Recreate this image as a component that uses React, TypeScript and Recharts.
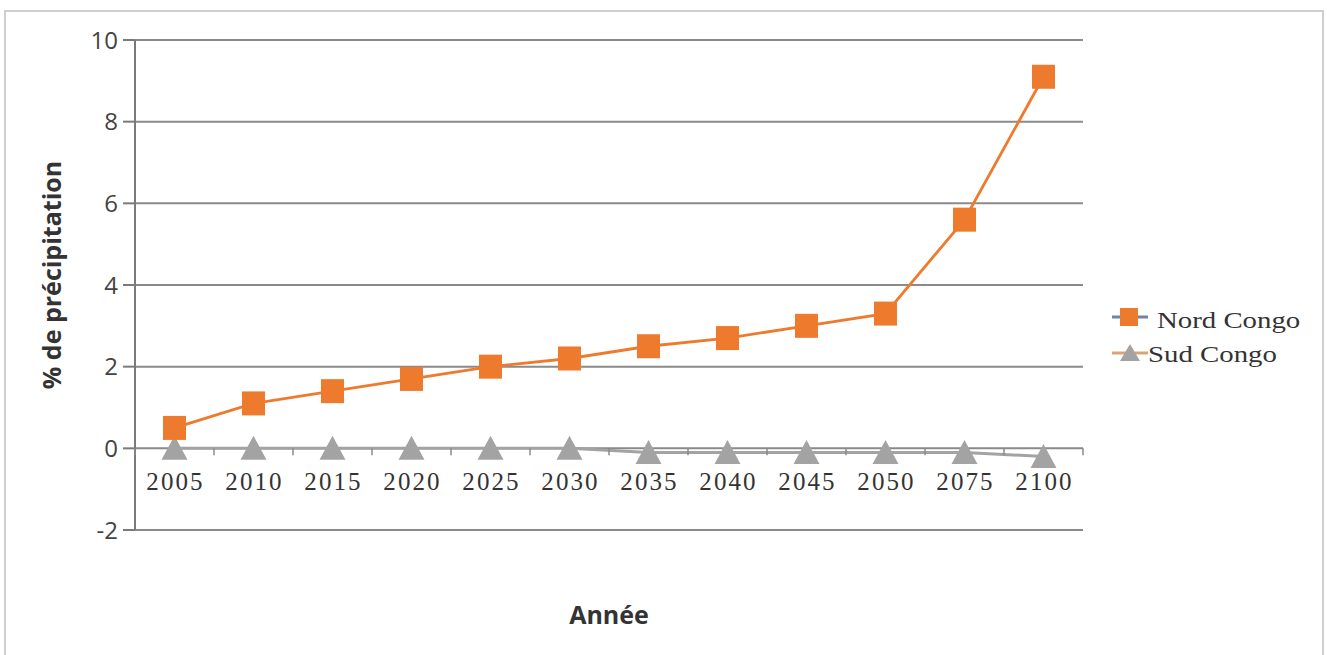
import React from 'react';
import { LineChart, Line, XAxis, YAxis, CartesianGrid } from 'recharts';

const years = ['2005', '2010', '2015', '2020', '2025', '2030', '2035', '2040', '2045', '2050', '2075', '2100'];
const nordCongo = [0.5, 1.1, 1.4, 1.7, 2.0, 2.2, 2.5, 2.7, 3.0, 3.3, 5.6, 9.1];
const sudCongo = [0, 0, 0, 0, 0, 0, -0.1, -0.1, -0.1, -0.1, -0.1, -0.2];
const yTicks = [-2, 0, 2, 4, 6, 8, 10];
const seriesNames = ['Nord Congo', 'Sud Congo'];
const yTitle = '% de précipitation';
const xTitle = 'Année';

const data = years.map((y, i) => ({ year: y, nord: nordCongo[i], sud: sudCongo[i] }));

const W = 1327;
const H = 655;
const M = { top: 40, right: 244, bottom: 95, left: 0 };
const Y_AXIS_W = 135;
const X_AXIS_H = 30;
const PLOT_W = W - M.left - M.right - Y_AXIS_W;
const PLOT_H = H - M.top - M.bottom - X_AXIS_H;
const Y_MIN = yTicks[0];
const Y_MAX = yTicks[yTicks.length - 1];
const ZERO_OFFSET = (PLOT_H * (0 - Y_MIN)) / (Y_MAX - Y_MIN);
const HALF = PLOT_W / years.length / 2;

const ORANGE = '#EE7A2E';
const GREY = '#A3A3A3';
const GRID = '#8a8a8a';

const XTick = (props: any) => {
  const { x, y, payload, index } = props;
  const zy = y - ZERO_OFFSET;
  return (
    <g>
      <text
        x={x + 1}
        y={zy + 42}
        textAnchor="middle"
        fontFamily="'Liberation Serif', 'Times New Roman', serif"
        fontSize={25}
        letterSpacing={2.1}
        fill="#333"
      >
        {payload.value}
      </text>
      <line x1={x - HALF} x2={x - HALF} y1={zy} y2={zy + 7} stroke={GRID} strokeWidth={1.5} />
      {index === years.length - 1 && (
        <line x1={x + HALF} x2={x + HALF} y1={zy} y2={zy + 7} stroke={GRID} strokeWidth={1.5} />
      )}
    </g>
  );
};

const SquareDot = (props: any) => {
  const { cx, cy } = props;
  if (cx == null || cy == null) return null;
  return <rect x={cx - 11.5} y={cy - 12} width={23} height={24} fill={ORANGE} />;
};

const TriangleDot = (props: any) => {
  const { cx, cy } = props;
  if (cx == null || cy == null) return null;
  return <polygon points={`${cx},${cy - 12.5} ${cx + 13},${cy + 11.5} ${cx - 13},${cy + 11.5}`} fill={GREY} />;
};

const legendText: React.CSSProperties = {
  position: 'absolute',
  fontFamily: "'Liberation Serif', 'Times New Roman', serif",
  fontSize: 24,
  color: '#333',
  transform: 'scaleX(1.2)',
  transformOrigin: 'left center',
  whiteSpace: 'nowrap',
  lineHeight: '28px',
};

export default function App() {
  return (
    <div
      style={{
        position: 'absolute',
        left: 0,
        top: 0,
        width: W,
        height: H,
        overflow: 'hidden',
        background: '#fff',
      }}
    >
      <div
        style={{
          position: 'absolute',
          left: 4,
          top: 10,
          width: 1320,
          height: 700,
          border: '2px solid #cfcfcf',
          boxSizing: 'border-box',
        }}
      />
      <div style={{ position: 'absolute', left: 0, top: 0 }}>
        <LineChart width={W} height={H} data={data} margin={M}>
          <CartesianGrid vertical={false} stroke={GRID} strokeWidth={2} />
          <XAxis
            dataKey="year"
            height={X_AXIS_H}
            axisLine={false}
            tickLine={false}
            tickSize={0}
            tickMargin={0}
            interval={0}
            padding={{ left: HALF, right: HALF }}
            tick={<XTick />}
            label={{
              value: xTitle,
              position: 'bottom',
              offset: 46,
              style: { fontFamily: "'Open Sans', sans-serif", fontWeight: 700, fontSize: 25, fill: '#333' },
            }}
          />
          <YAxis
            width={Y_AXIS_W}
            domain={[Y_MIN, Y_MAX]}
            ticks={yTicks}
            interval={0}
            axisLine={{ stroke: '#7a7a7a', strokeWidth: 2 }}
            tickLine={{ stroke: '#7a7a7a', strokeWidth: 2 }}
            tickSize={12}
            tickMargin={5}
            tick={{ fontFamily: "'Open Sans', sans-serif", fontSize: 24, fill: '#444' }}
            label={{
              value: yTitle,
              angle: -90,
              position: 'insideLeft',
              offset: 52,
              dy: -10,
              style: {
                textAnchor: 'middle',
                fontFamily: "'Open Sans', sans-serif",
                fontWeight: 700,
                fontSize: 25,
                fill: '#333',
              },
            }}
          />
          <YAxis
            yAxisId="r"
            orientation="right"
            width={0}
            domain={[Y_MIN, Y_MAX]}
            ticks={yTicks}
            tick={false}
            tickLine={false}
            axisLine={{ stroke: '#c4c4c4', strokeWidth: 2 }}
          />
          <Line
            dataKey="sud"
            name={seriesNames[1]}
            stroke={GREY}
            strokeWidth={3}
            dot={<TriangleDot />}
            activeDot={false}
            isAnimationActive={false}
          />
          <Line
            dataKey="nord"
            name={seriesNames[0]}
            stroke={ORANGE}
            strokeWidth={2.8}
            dot={<SquareDot />}
            activeDot={false}
            isAnimationActive={false}
          />
        </LineChart>
      </div>
      <svg style={{ position: 'absolute', left: 1108, top: 300 }} width={45} height={70}>
        <line x1={4} x2={40} y1={17} y2={17} stroke="#6b86a6" strokeWidth={3} />
        <rect x={12} y={8} width={18} height={18} fill={ORANGE} />
        <line x1={4} x2={40} y1={53} y2={53} stroke="#d8a57a" strokeWidth={3} />
        <polygon points="22,44 32,61 12,61" fill={GREY} />
      </svg>
      <div style={{ ...legendText, left: 1157, top: 306 }}>{seriesNames[0]}</div>
      <div style={{ ...legendText, left: 1148, top: 340 }}>{seriesNames[1]}</div>
    </div>
  );
}
